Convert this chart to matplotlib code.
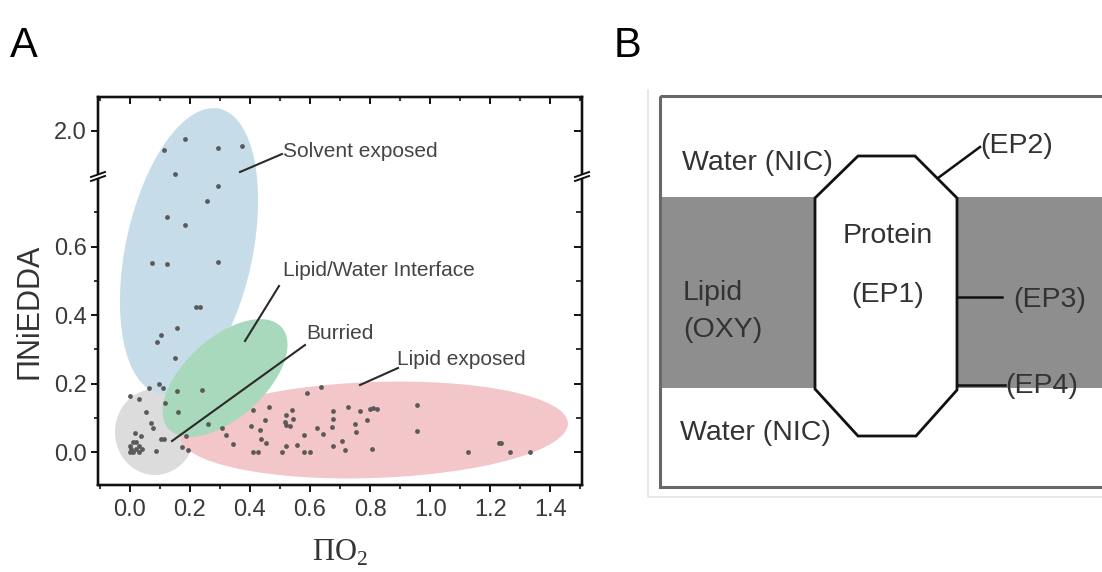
import numpy as np
import matplotlib
matplotlib.use('Agg')
import matplotlib.pyplot as plt
from matplotlib.patches import Ellipse, Polygon, Rectangle
from matplotlib.lines import Line2D
from matplotlib.transforms import Affine2D
from matplotlib.ticker import FixedLocator, FixedFormatter

# ---------------- data ----------------
solvent_x = [0.186, 0.114, 0.294, 0.374, 0.150, 0.294, 0.256, 0.126, 0.186, 0.076,
             0.126, 0.294, 0.220, 0.235, 0.159, 0.103, 0.091, 0.150, 0.064, 0.098, 0.111]
solvent_y = [1.976, 1.943, 1.949, 1.956, 1.874, 0.776, 0.734, 0.687, 0.663, 0.553,
             0.550, 0.556, 0.423, 0.423, 0.364, 0.342, 0.323, 0.275, 0.187, 0.200, 0.187]

interface_x = [0.159, 0.240, 0.117, 0.161, 0.261]
interface_y = [0.180, 0.181, 0.144, 0.117, 0.084]

buried_x = [0.000, 0.031, 0.056, 0.072, 0.078, 0.017, 0.039, 0.106, 0.113, 0.089,
            0.176, 0.194, 0.187, 0.000, 0.010, 0.020, 0.000, 0.010, 0.030, 0.030,
            0.040, 0.020, 0.005]
buried_y = [0.165, 0.156, 0.117, 0.086, 0.071, 0.058, 0.049, 0.039, 0.039, 0.003,
            0.015, 0.006, 0.049, 0.000, 0.000, 0.010, 0.020, 0.030, 0.020, 0.000,
            0.010, 0.030, 0.010]

lipid_x = [0.637, 0.589, 0.411, 0.464, 0.539, 0.522, 0.678, 0.728, 0.767, 0.800,
           0.822, 0.450, 0.517, 0.544, 0.522, 0.533, 0.678, 0.791, 0.750, 0.403,
           0.433, 0.309, 0.322, 0.622, 0.674, 0.644, 0.580, 0.753, 0.437, 0.453,
           0.344, 0.522, 0.556, 0.676, 0.708, 0.411, 0.428, 0.506, 0.580, 0.600,
           0.717, 0.806, 0.956, 0.956, 1.126, 1.228, 1.236, 1.264, 1.333, 0.810]
lipid_y = [0.190, 0.173, 0.124, 0.131, 0.124, 0.110, 0.122, 0.131, 0.122, 0.126,
           0.126, 0.095, 0.090, 0.097, 0.081, 0.076, 0.097, 0.095, 0.084, 0.076,
           0.066, 0.071, 0.052, 0.071, 0.073, 0.054, 0.052, 0.059, 0.039, 0.027,
           0.024, 0.019, 0.022, 0.020, 0.034, 0.000, 0.000, 0.000, 0.000, 0.000,
           0.006, 0.011, 0.137, 0.061, 0.000, 0.027, 0.027, 0.000, 0.000, 0.130]

x_major = [0.0, 0.2, 0.4, 0.6, 0.8, 1.0, 1.2, 1.4]
x_minor = [-0.1, 0.1, 0.3, 0.5, 0.7, 0.9, 1.1, 1.3, 1.5]
x_labels = ['0.0', '0.2', '0.4', '0.6', '0.8', '1.0', '1.2', '1.4']
y_major = [0.0, 0.2, 0.4, 0.6, 2.0]
y_minor = [0.1, 0.3, 0.5, 0.7]
y_labels = ['0.0', '0.2', '0.4', '0.6', '2.0']

region_labels = ['Solvent exposed', 'Lipid/Water Interface', 'Burried', 'Lipid exposed']

# ---------------- figure ----------------
W, H = 1102, 572
plt.rcParams['font.family'] = ['Liberation Sans', 'DejaVu Sans']
fig = plt.figure(figsize=(W / 100, H / 100), dpi=100)
fig.patch.set_facecolor('white')
pix = Affine2D().scale(1, -1).translate(0, H)   # image-pixel coordinates (y down)

# broken y scale: lower segment linear up to 0.8, upper segment starts at 1.862
BRK, UP = 0.8, 1.862
def fwd(y):
    y = np.asarray(y, float)
    return np.where(y <= BRK, y, np.where(y < UP, BRK, y - (UP - BRK)))
def inv(t):
    t = np.asarray(t, float)
    return np.where(t <= BRK, t, t + (UP - BRK))

ax = fig.add_axes([98 / W, 1 - 485 / H, 484 / W, 388 / H])
ax.set_yscale('function', functions=(fwd, inv))
ax.set_xlim(-0.105, 1.505)
ax.set_ylim(-0.095, 2.098)

tick_col = '#3a3a3a'
ax.xaxis.set_major_locator(FixedLocator(x_major))
ax.xaxis.set_major_formatter(FixedFormatter(x_labels))
ax.xaxis.set_minor_locator(FixedLocator(x_minor))
ax.yaxis.set_major_locator(FixedLocator(y_major))
ax.yaxis.set_major_formatter(FixedFormatter(y_labels))
ax.yaxis.set_minor_locator(FixedLocator(y_minor))
ax.tick_params(axis='both', which='major', direction='out', length=5, width=1.4,
               labelsize=17, labelcolor=tick_col, color='#111')
ax.tick_params(axis='both', which='minor', direction='out', length=3, width=1.2, color='#111')
ax.tick_params(axis='x', pad=5)
ax.tick_params(axis='y', pad=3)
for s in ax.spines.values():
    s.set_linewidth(1.6)
    s.set_color('#111')

# inward ticks on top and right
axt = ax.twiny()
axt.set_xlim(ax.get_xlim())
axt.xaxis.set_major_locator(FixedLocator(x_major))
axt.xaxis.set_minor_locator(FixedLocator(x_minor))
axt.tick_params(axis='x', which='major', direction='in', length=5, width=1.4,
                top=True, bottom=False, labeltop=False, color='#111')
axt.tick_params(axis='x', which='minor', direction='in', length=3, width=1.2,
                top=True, bottom=False, color='#111')
axr = ax.twinx()
axr.set_yscale('function', functions=(fwd, inv))
axr.set_ylim(ax.get_ylim())
axr.yaxis.set_major_locator(FixedLocator(y_major))
axr.yaxis.set_minor_locator(FixedLocator(y_minor))
axr.tick_params(axis='y', which='major', direction='in', length=6, width=1.4,
                right=True, left=False, labelright=False, color='#111')
axr.tick_params(axis='y', which='minor', direction='in', length=4, width=1.2,
                right=True, left=False, color='#111')
for a in (axt, axr):
    for s in a.spines.values():
        s.set_linewidth(1.6)
        s.set_color('#111')

# region ellipses (image pixel coordinates)
ell_specs = [
    ((155, 432), 80, 86, 0, '#dcdcdc'),      # buried
    ((189, 251), 291, 127, -78, '#c6dde9'),  # solvent exposed
    ((374, 430), 388, 96, -2, '#f3c6ca'),    # lipid exposed
    ((225, 378), 152, 80, -42, '#a9d9bd'),   # interface
]
for (c, w, h, ang, col) in ell_specs:
    e = Ellipse(c, w, h, angle=ang, transform=pix, facecolor=col, edgecolor='none', zorder=1)
    ax.add_patch(e)

ax.scatter(solvent_x + interface_x + buried_x + lipid_x,
           solvent_y + interface_y + buried_y + lipid_y,
           s=12, c='#5a5a5a', linewidths=0, zorder=3)

# annotations
ann_lines = [((240, 172), (282, 154)),
             ((245, 341), (279, 286)),
             ((172, 441), (305, 345)),
             ((360, 385), (398, 368))]
ann_text_pos = [(283, 157), (283, 276), (306, 339), (397, 365)]
for (p0, p1), lab, tp in zip(ann_lines, region_labels, ann_text_pos):
    ax.add_line(Line2D([p0[0], p1[0]], [p0[1], p1[1]], transform=pix, color='#2a2a2a',
                       lw=1.5, zorder=4, clip_on=False))
    ax.text(tp[0], tp[1], lab, transform=pix, fontsize=15, color='#444444',
            ha='left', va='baseline', zorder=5, clip_on=False)

# axis labels
fig.text(29, 311, 'ΠNiEDDA', transform=pix, rotation=90, fontsize=22, color='#333333',
         ha='center', va='center')
fig.text(340, 553, 'ΠO$_\\mathregular{2}$', transform=pix, fontsize=22, color='#333333',
         family='Liberation Serif', ha='center', va='center')

# axis break marks on left and right spines
for xs in (98, 582):
    gap = Polygon([(xs - 8, 181), (xs + 8, 175), (xs + 8, 171), (xs - 8, 177)],
                  closed=True, transform=pix, facecolor='white', edgecolor='none', zorder=10)
    fig.add_artist(gap)
    for dy in (0, 4):
        fig.add_artist(Line2D([xs - 7, xs + 7], [177 + dy, 172 + dy], transform=pix,
                              color='#111', lw=1.4, zorder=11))

# panel letters
fig.text(10, 57, 'A', transform=pix, fontsize=30, color='black', ha='left', va='baseline')
fig.text(614, 57, 'B', transform=pix, fontsize=30, color='black', ha='left', va='baseline')

# ---------------- panel B schematic ----------------
ax2 = fig.add_axes([0, 0, 1, 1], zorder=-1)
ax2.set_xlim(0, W)
ax2.set_ylim(H, 0)
ax2.axis('off')

ax2.add_line(Line2D([648, 648, 1102], [90, 497, 497], color='#e4e4e4', lw=1.2))
ax2.add_patch(Rectangle((660, 197), 450, 191, facecolor='#8e8e8e', edgecolor='none'))
ax2.add_patch(Rectangle((660, 96), 460, 391, facecolor='none', edgecolor='#686868', lw=2.2))
octagon = [(858, 156), (915, 156), (957, 198), (957, 390), (916, 436), (858, 436),
           (815, 389), (815, 198)]
ax2.add_patch(Polygon(octagon, closed=True, facecolor='white', edgecolor='#111', lw=2.0))
for (p0, p1) in [((938, 178), (980, 147)), ((957, 297), (1002, 297)), ((957, 385), (1005, 385))]:
    ax2.add_line(Line2D([p0[0], p1[0]], [p0[1], p1[1]], color='#111', lw=1.8))

bcol = '#333333'
bfs = 20.5
for (tx, ty, s, ha) in [(682, 170, 'Water (NIC)', 'left'),
                        (680, 440, 'Water (NIC)', 'left'),
                        (683, 300, 'Lipid', 'left'),
                        (683, 337, '(OXY)', 'left'),
                        (888, 243, 'Protein', 'center'),
                        (888, 302, '(EP1)', 'center'),
                        (980, 153, '(EP2)', 'left'),
                        (1013, 307, '(EP3)', 'left'),
                        (1005, 393, '(EP4)', 'left')]:
    ax2.text(tx, ty, s, fontsize=bfs, color=bcol, ha=ha, va='baseline')

fig.savefig('out.png', dpi=100)
